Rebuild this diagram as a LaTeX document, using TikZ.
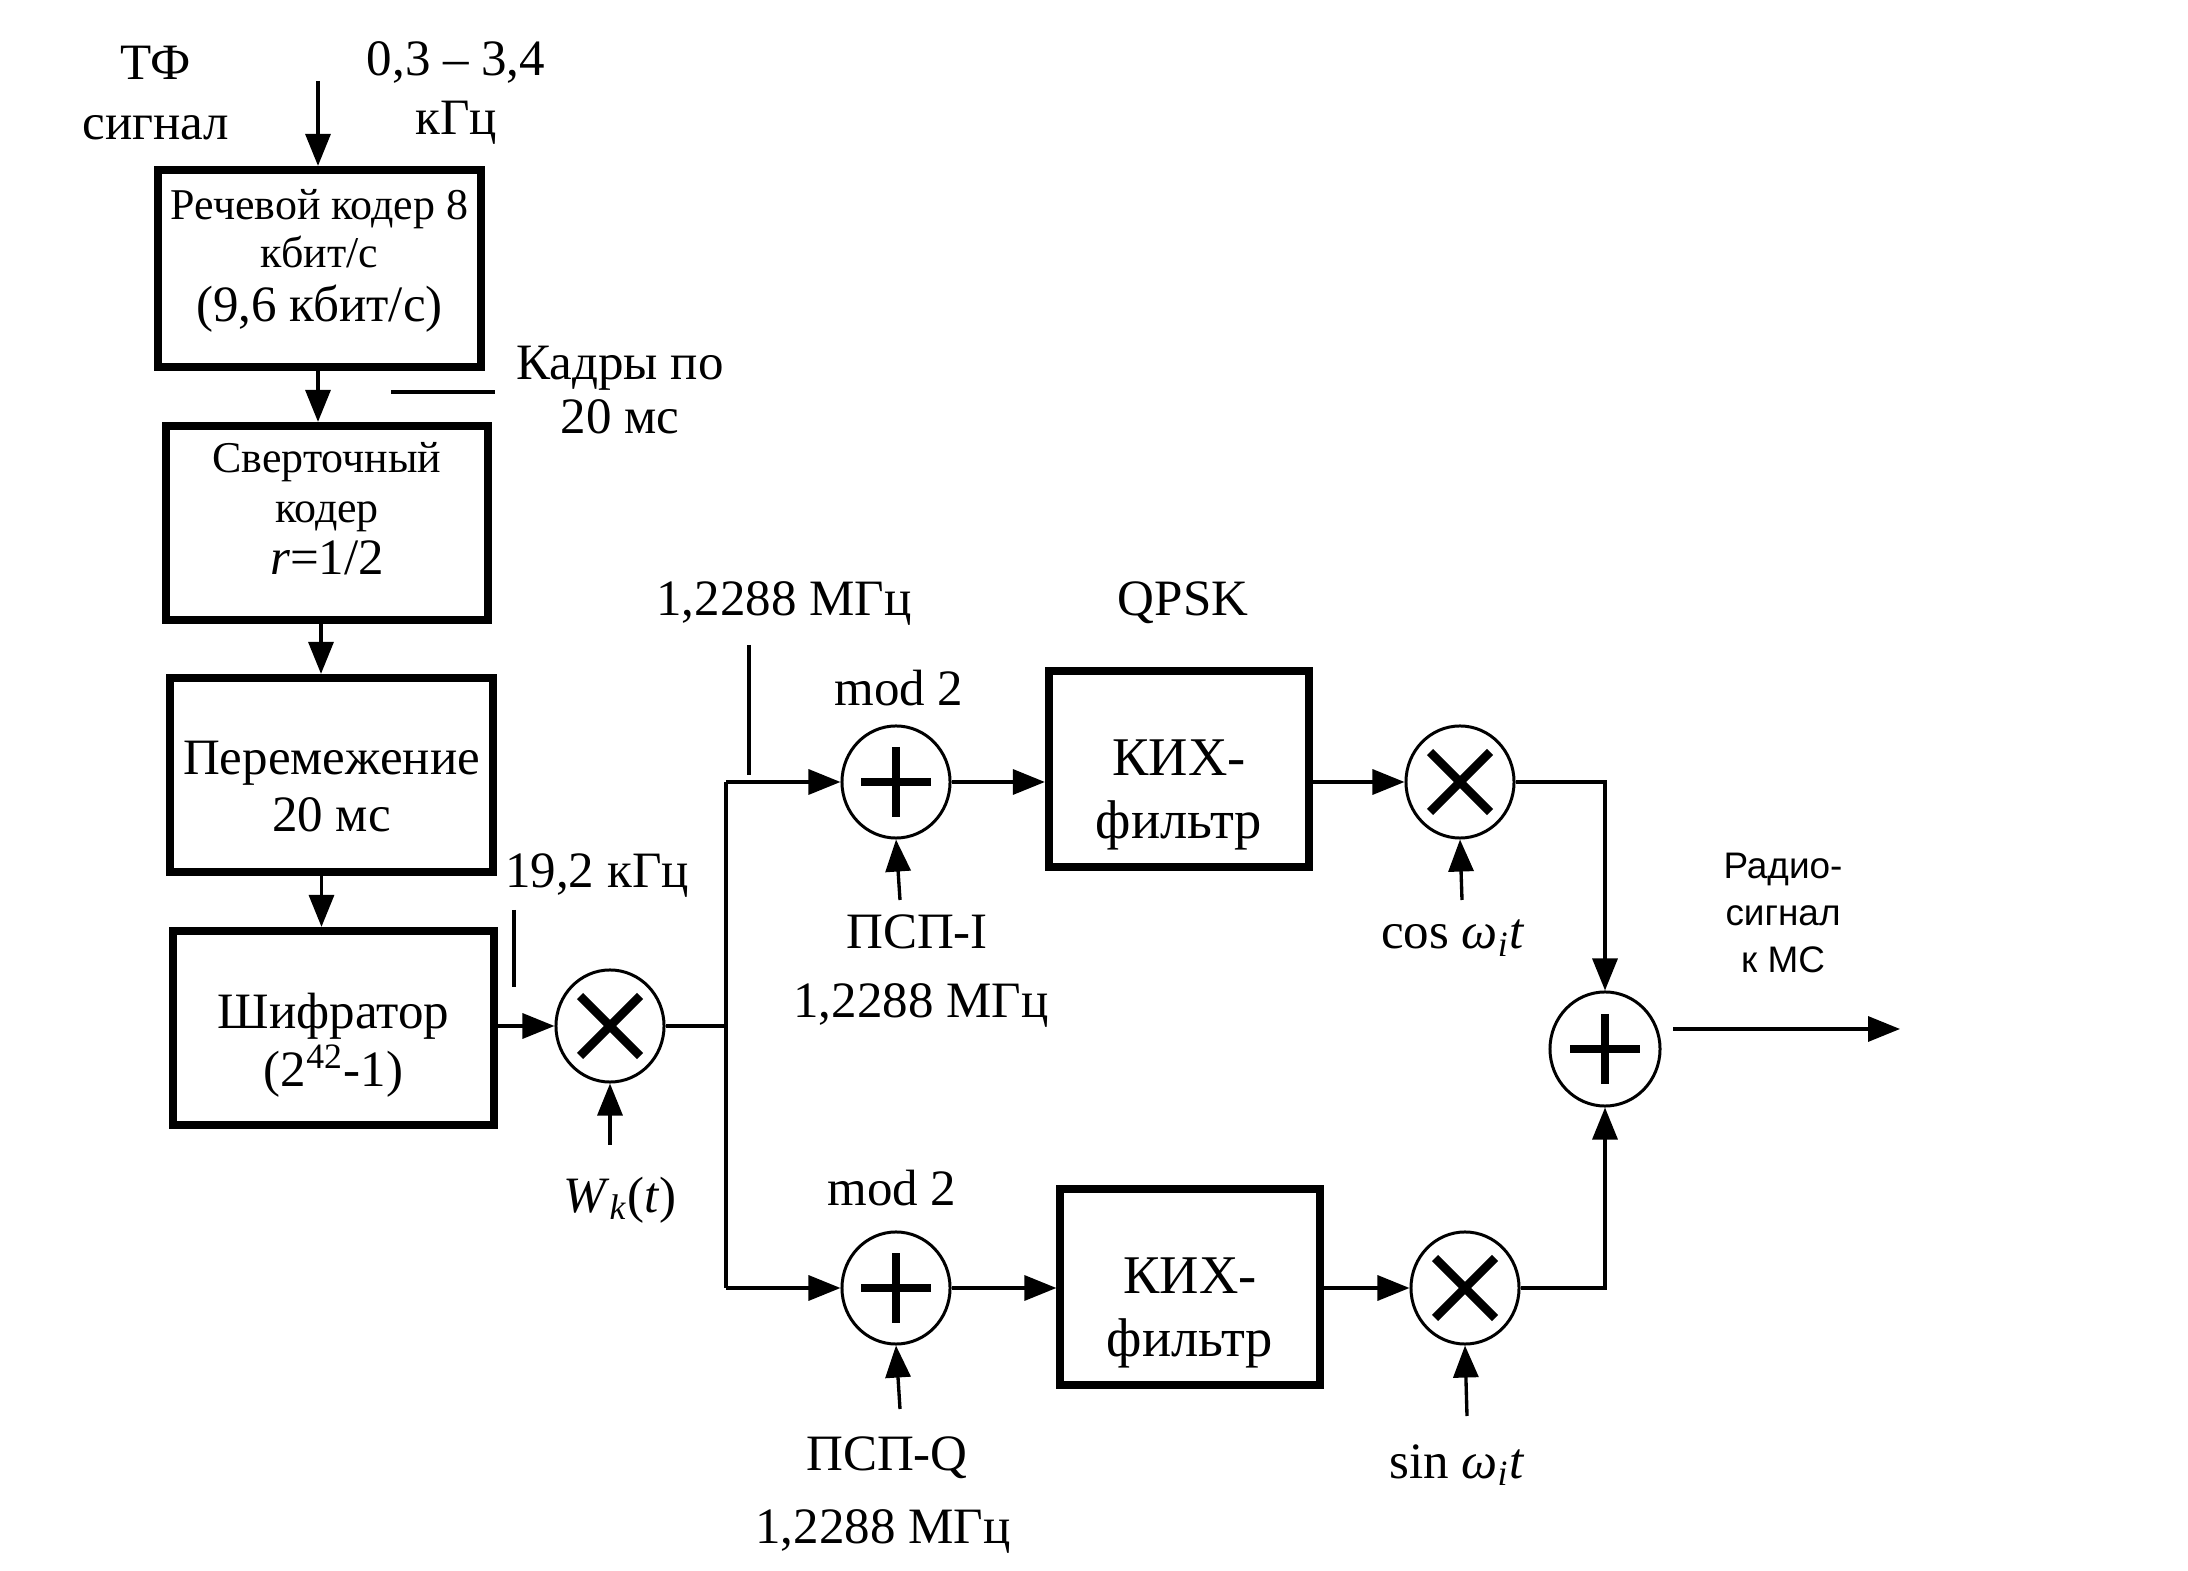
\documentclass[tikz,border=0pt]{standalone}
\usepackage{fontspec}
\setmainfont{Liberation Serif}
\newfontfamily\sansru{Liberation Sans}
\usetikzlibrary{arrows.meta,shapes.geometric}
\begin{document}
\begin{tikzpicture}[x=0.01cm,y=-0.01cm,
  box/.style={draw,line width=2.3pt,align=center,inner sep=0pt},
  conn/.style={line width=0.95pt},
  arr/.style={conn,-{Triangle[length=0.32cm,width=0.25cm]}},
  opnode/.style={draw,ellipse,line width=0.85pt,minimum width=1.08cm,minimum height=1.12cm,inner sep=0pt},
  sym/.style={line width=2.5pt},
  lbl/.style={font=\fontsize{14.5}{17}\selectfont,align=center,inner sep=0pt}]
\useasboundingbox (0,0) rectangle (2188,1571);
\fill[white] (0,0) rectangle (2188,1571);

% boxes
\node[box,minimum width=3.23cm,minimum height=1.97cm,font=\fontsize{12.5}{13.8}\selectfont] (b1) at (319.5,268.5)
  {Речевой кодер 8\\ кбит/с\\[1.5pt] {\fontsize{14.5}{15}\selectfont (9,6 кбит/с)\rule[-7.5pt]{0pt}{0pt}}};
\node[box,minimum width=3.22cm,minimum height=1.94cm,font=\fontsize{12.5}{14}\selectfont] (b2) at (327,523)
  {Сверточный\\ кодер\\[1pt] {\fontsize{14.5}{15}\selectfont \textit{r}=1/2\rule[-8pt]{0pt}{0pt}}};
\node[box,minimum width=3.23cm,minimum height=1.94cm,font=\fontsize{14.5}{16}\selectfont] (b3) at (331.5,775)
  {\rule{0pt}{16pt}Перемежение\\ 20 мс};
\node[box,minimum width=3.21cm,minimum height=1.94cm,font=\fontsize{14.5}{16.5}\selectfont] (b4) at (333.5,1028)
  {\rule{0pt}{20pt}Шифратор\\ (2\textsuperscript{42}-1)};
\node[box,minimum width=2.60cm,minimum height=1.96cm,font=\fontsize{15.5}{18}\selectfont] (f1) at (1179,769)
  {\rule{0pt}{25pt}КИХ-\\ фильтр};
\node[box,minimum width=2.59cm,minimum height=1.95cm,font=\fontsize{15.5}{18}\selectfont] (f2) at (1190,1287)
  {\rule{0pt}{25pt}КИХ-\\ фильтр};

% operation nodes
\node[opnode] (m1) at (610,1026) {};
\node[opnode] (a2) at (896,782) {};
\node[opnode] (m3) at (1460,782) {};
\node[opnode] (a4) at (896,1288) {};
\node[opnode] (m4) at (1465,1288) {};
\node[opnode,minimum width=1.1cm,minimum height=1.14cm] (a3) at (1605,1049) {};

% symbols
\foreach \n in {a2,a3,a4}{
  \draw[sym] (\n.center) ++(-35,0) -- ++(70,0);
  \draw[sym] (\n.center) ++(0,-35) -- ++(0,70);
}
\foreach \n in {m1,m3,m4}{
  \draw[sym] (\n.center) ++(-30,-30) -- ++(60,60);
  \draw[sym] (\n.center) ++(-30,30) -- ++(60,-60);
}

% coordinates
\coordinate (in1) at (318,81);
\coordinate (k1) at (391,392);
\coordinate (k2) at (495,392);
\coordinate (t19a) at (514,910);
\coordinate (t19b) at (514,987);
\coordinate (tMa) at (749,645);
\coordinate (tMb) at (749,775);
\coordinate (wk) at (610,1145);
\coordinate (br) at (726,1026);
\coordinate (bt) at (726,782);
\coordinate (bb) at (726,1288);
\coordinate (pi) at (900,900);
\coordinate (pq) at (900,1409);
\coordinate (cs) at (1462,900);
\coordinate (sn) at (1467,1416);
\coordinate (o1) at (1673,1029);
\coordinate (o2) at (1900,1029);

% connectors
\draw[arr] (in1) -- (in1 |- b1.north);
\draw[arr] (b1.south -| in1) -- (b2.north -| in1);
\draw[arr] ([xshift=-0.06cm]b2.south) -- ([xshift=-0.06cm]b2.south |- b3.north);
\draw[arr] ([xshift=-0.10cm]b3.south) -- ([xshift=-0.10cm]b3.south |- b4.north);
\draw[conn] (k1) -- (k2);
\draw[conn] (t19a) -- (t19b);
\draw[conn] (tMa) -- (tMb);
\draw[arr] (b4.east |- m1) -- (m1.west);
\draw[arr] (wk) -- (m1.south);
\draw[conn] (m1.east) -- (br);
\draw[conn] (bt) -- (bb);
\draw[arr] (bt) -- (a2.west);
\draw[arr] (bb) -- (a4.west);
\draw[arr] (pi) -- (a2.south);
\draw[arr] (pq) -- (a4.south);
\draw[arr] (a2.east) -- (a2.east -| f1.west);
\draw[arr] (a4.east) -- (a4.east -| f2.west);
\draw[arr] (f1.east |- m3) -- (m3.west);
\draw[arr] (f2.east |- m4) -- (m4.west);
\draw[arr] (cs) -- (m3.south);
\draw[arr] (sn) -- (m4.south);
\draw[arr] (m3.east) -| (a3.north);
\draw[arr] (m4.east) -| (a3.south);
\draw[arr] (o1) -- (o2);

% labels
\node[lbl] (lTF) at (156,93) {ТФ\\ сигнал};
\node[lbl] (lband) at (456,93) {0,3 – 3,4\\ кГц};
\node[lbl,font=\fontsize{14.5}{15.5}\selectfont] (lkadr) at (620,390) {Кадры по\\ 20 мс};
\node[lbl] (l192) at (597,876) {19,2 кГц};
\node[lbl] (l12a) at (784,603) {1,2288 МГц};
\node[lbl] (lqpsk) at (1183,603) {QPSK};
\node[lbl] (lmod1) at (899,688) {mod 2};
\node[lbl] (lmod2) at (892,1188) {mod 2};
\node[lbl] (lpsi) at (917,932) {ПСП-I};
\node[lbl] (l12b) at (921,1005) {1,2288 МГц};
\node[lbl] (lpsq) at (887,1458) {ПСП-Q};
\node[lbl] (l12c) at (883,1531) {1,2288 МГц};
\node[lbl] (lcos) at (1453,938) {cos \textit{ω}\textsubscript{\textit{i}}\textit{t}};
\node[lbl] (lsin) at (1457,1465) {sin \textit{ω}\textsubscript{\textit{i}}\textit{t}};
\node[lbl] (lwk) at (620,1200) {\textit{W}\textsubscript{\textit{k}}(\textit{t})};
\node[lbl,font=\sansru\fontsize{10.5}{13.3}\selectfont] (lradio) at (1783,913) {Радио-\\ сигнал\\ к МС};
\end{tikzpicture}
\end{document}
